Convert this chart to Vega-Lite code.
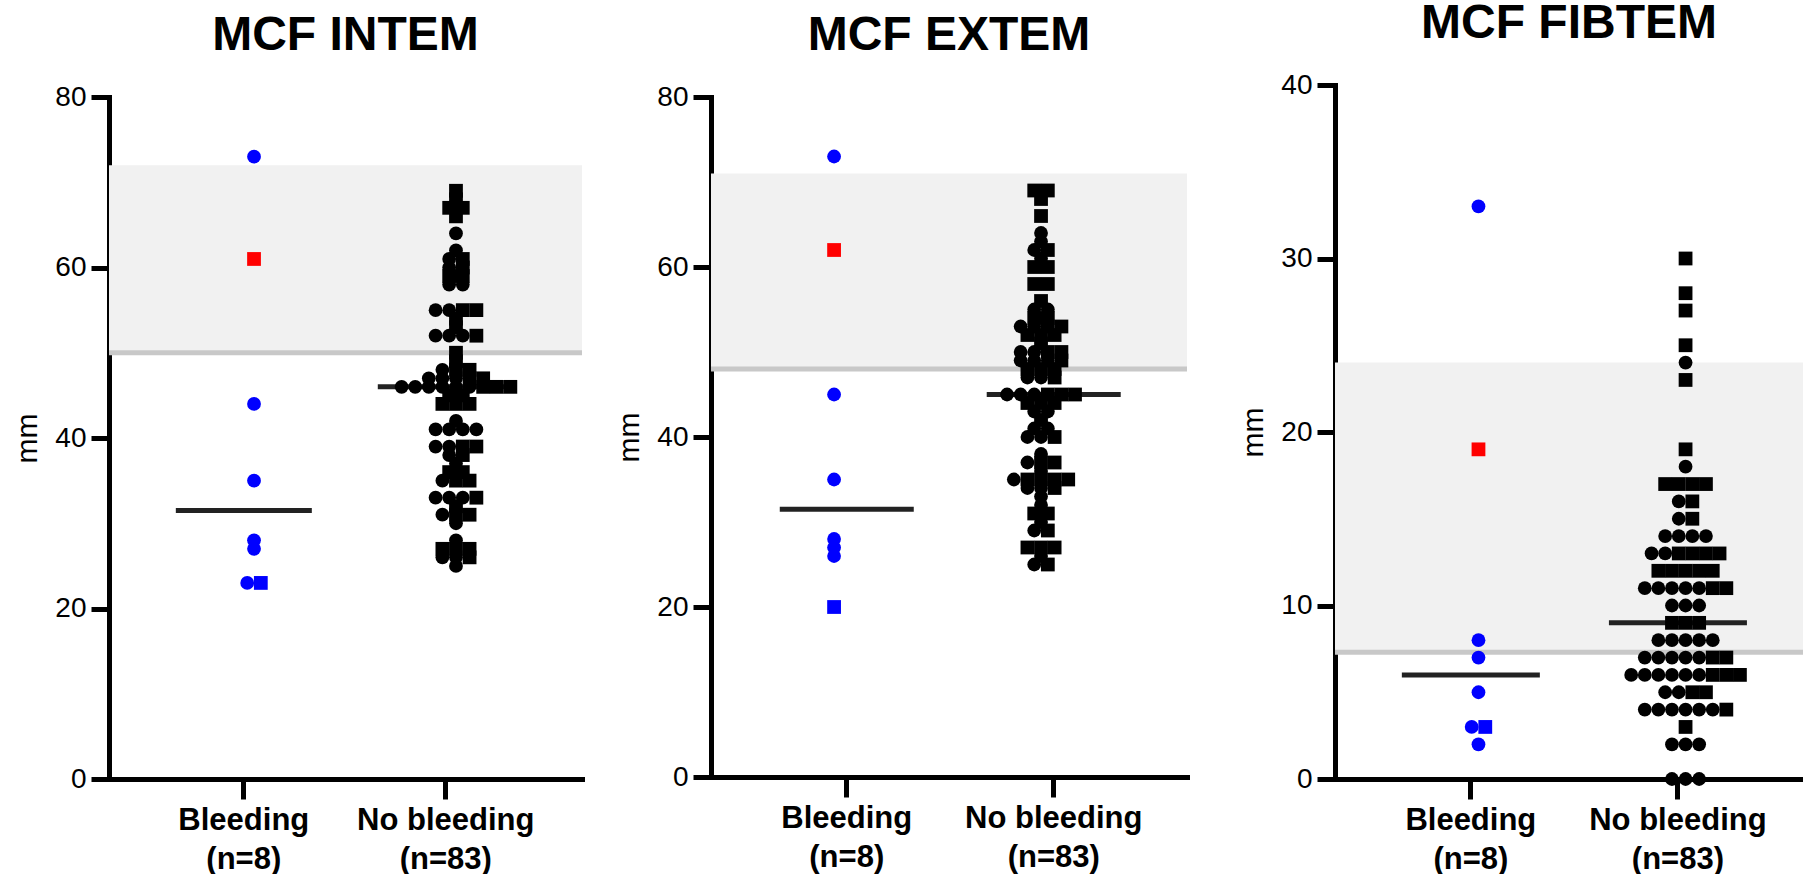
{
  "$schema": "https://vega.github.io/schema/vega-lite/v6.json",
  "padding": {"left": 12, "top": 0, "right": 0, "bottom": 0},
  "background": "white",
  "config": {
    "font": "Liberation Sans",
    "view": {"stroke": null},
    "axis": {"domainColor": "#000", "domainWidth": 5, "tickColor": "#000", "tickWidth": 5, "labelColor": "#000", "titleColor": "#000", "grid": false, "domainCap": "square"},
    "axisY": {"tickSize": 18, "labelFontSize": 28, "labelPadding": 5, "titleFontSize": 30, "titleFontWeight": "normal", "titlePadding": 12, "tickCount": 5},
    "axisX": {"tickSize": 20, "labelFontSize": 31, "labelFontWeight": "bold", "labelPadding": 6, "labelAngle": 0, "labelLineHeight": 39},
    "title": {"fontSize": 48, "fontWeight": "bold", "frame": "group", "anchor": "middle", "color": "#000", "offset": 23}
  },
  "datasets": {
    "bands": [
      {"test": "INTEM", "low": 50, "high": 72},
      {"test": "EXTEM", "low": 48, "high": 71},
      {"test": "FIBTEM", "low": 7.3, "high": 24}
    ],
    "intem": [
      {"group": "Bleeding", "value": 73, "kind": "A"},
      {"group": "Bleeding", "value": 61, "kind": "B", "highlight": true},
      {"group": "Bleeding", "value": 44, "kind": "A"},
      {"group": "Bleeding", "value": 35, "kind": "A"},
      {"group": "Bleeding", "value": 28, "kind": "A"},
      {"group": "Bleeding", "value": 27, "kind": "A"},
      {"group": "Bleeding", "value": 23, "kind": "B"},
      {"group": "Bleeding", "value": 23, "kind": "A"},
      {"group": "No bleeding", "value": 69, "kind": "B"},
      {"group": "No bleeding", "value": 68, "kind": "B"},
      {"group": "No bleeding", "value": 67, "kind": "B"},
      {"group": "No bleeding", "value": 67, "kind": "B"},
      {"group": "No bleeding", "value": 66, "kind": "B"},
      {"group": "No bleeding", "value": 64, "kind": "A"},
      {"group": "No bleeding", "value": 62, "kind": "A"},
      {"group": "No bleeding", "value": 61, "kind": "B"},
      {"group": "No bleeding", "value": 61, "kind": "A"},
      {"group": "No bleeding", "value": 60, "kind": "B"},
      {"group": "No bleeding", "value": 60, "kind": "A"},
      {"group": "No bleeding", "value": 59, "kind": "B"},
      {"group": "No bleeding", "value": 59, "kind": "B"},
      {"group": "No bleeding", "value": 58, "kind": "A"},
      {"group": "No bleeding", "value": 58, "kind": "A"},
      {"group": "No bleeding", "value": 55, "kind": "A"},
      {"group": "No bleeding", "value": 55, "kind": "B"},
      {"group": "No bleeding", "value": 55, "kind": "B"},
      {"group": "No bleeding", "value": 55, "kind": "A"},
      {"group": "No bleeding", "value": 54, "kind": "B"},
      {"group": "No bleeding", "value": 53, "kind": "B"},
      {"group": "No bleeding", "value": 52, "kind": "A"},
      {"group": "No bleeding", "value": 52, "kind": "A"},
      {"group": "No bleeding", "value": 52, "kind": "A"},
      {"group": "No bleeding", "value": 52, "kind": "B"},
      {"group": "No bleeding", "value": 50, "kind": "B"},
      {"group": "No bleeding", "value": 49, "kind": "B"},
      {"group": "No bleeding", "value": 48, "kind": "A"},
      {"group": "No bleeding", "value": 48, "kind": "B"},
      {"group": "No bleeding", "value": 48, "kind": "B"},
      {"group": "No bleeding", "value": 47, "kind": "A"},
      {"group": "No bleeding", "value": 47, "kind": "B"},
      {"group": "No bleeding", "value": 47, "kind": "B"},
      {"group": "No bleeding", "value": 47, "kind": "A"},
      {"group": "No bleeding", "value": 47, "kind": "A"},
      {"group": "No bleeding", "value": 46, "kind": "A"},
      {"group": "No bleeding", "value": 46, "kind": "A"},
      {"group": "No bleeding", "value": 46, "kind": "A"},
      {"group": "No bleeding", "value": 46, "kind": "A"},
      {"group": "No bleeding", "value": 46, "kind": "B"},
      {"group": "No bleeding", "value": 46, "kind": "B"},
      {"group": "No bleeding", "value": 46, "kind": "B"},
      {"group": "No bleeding", "value": 46, "kind": "A"},
      {"group": "No bleeding", "value": 46, "kind": "A"},
      {"group": "No bleeding", "value": 45, "kind": "B"},
      {"group": "No bleeding", "value": 45, "kind": "B"},
      {"group": "No bleeding", "value": 44, "kind": "B"},
      {"group": "No bleeding", "value": 44, "kind": "B"},
      {"group": "No bleeding", "value": 44, "kind": "B"},
      {"group": "No bleeding", "value": 42, "kind": "A"},
      {"group": "No bleeding", "value": 41, "kind": "A"},
      {"group": "No bleeding", "value": 41, "kind": "A"},
      {"group": "No bleeding", "value": 41, "kind": "A"},
      {"group": "No bleeding", "value": 41, "kind": "A"},
      {"group": "No bleeding", "value": 39, "kind": "A"},
      {"group": "No bleeding", "value": 39, "kind": "A"},
      {"group": "No bleeding", "value": 39, "kind": "B"},
      {"group": "No bleeding", "value": 39, "kind": "B"},
      {"group": "No bleeding", "value": 38, "kind": "B"},
      {"group": "No bleeding", "value": 38, "kind": "A"},
      {"group": "No bleeding", "value": 37, "kind": "A"},
      {"group": "No bleeding", "value": 36, "kind": "B"},
      {"group": "No bleeding", "value": 36, "kind": "B"},
      {"group": "No bleeding", "value": 35, "kind": "B"},
      {"group": "No bleeding", "value": 35, "kind": "B"},
      {"group": "No bleeding", "value": 35, "kind": "A"},
      {"group": "No bleeding", "value": 33, "kind": "A"},
      {"group": "No bleeding", "value": 33, "kind": "A"},
      {"group": "No bleeding", "value": 33, "kind": "B"},
      {"group": "No bleeding", "value": 33, "kind": "A"},
      {"group": "No bleeding", "value": 32, "kind": "B"},
      {"group": "No bleeding", "value": 31, "kind": "A"},
      {"group": "No bleeding", "value": 31, "kind": "B"},
      {"group": "No bleeding", "value": 31, "kind": "B"},
      {"group": "No bleeding", "value": 30, "kind": "A"},
      {"group": "No bleeding", "value": 28, "kind": "A"},
      {"group": "No bleeding", "value": 27, "kind": "B"},
      {"group": "No bleeding", "value": 27, "kind": "B"},
      {"group": "No bleeding", "value": 27, "kind": "B"},
      {"group": "No bleeding", "value": 26, "kind": "A"},
      {"group": "No bleeding", "value": 26, "kind": "B"},
      {"group": "No bleeding", "value": 26, "kind": "A"},
      {"group": "No bleeding", "value": 25, "kind": "A"}
    ],
    "extem": [
      {"group": "Bleeding", "value": 73, "kind": "A"},
      {"group": "Bleeding", "value": 62, "kind": "B", "highlight": true},
      {"group": "Bleeding", "value": 45, "kind": "A"},
      {"group": "Bleeding", "value": 35, "kind": "A"},
      {"group": "Bleeding", "value": 28, "kind": "A"},
      {"group": "Bleeding", "value": 27, "kind": "A"},
      {"group": "Bleeding", "value": 26, "kind": "A"},
      {"group": "Bleeding", "value": 20, "kind": "B"},
      {"group": "No bleeding", "value": 69, "kind": "B"},
      {"group": "No bleeding", "value": 69, "kind": "B"},
      {"group": "No bleeding", "value": 68, "kind": "B"},
      {"group": "No bleeding", "value": 66, "kind": "B"},
      {"group": "No bleeding", "value": 64, "kind": "A"},
      {"group": "No bleeding", "value": 63, "kind": "A"},
      {"group": "No bleeding", "value": 62, "kind": "A"},
      {"group": "No bleeding", "value": 62, "kind": "B"},
      {"group": "No bleeding", "value": 61, "kind": "A"},
      {"group": "No bleeding", "value": 60, "kind": "B"},
      {"group": "No bleeding", "value": 60, "kind": "B"},
      {"group": "No bleeding", "value": 58, "kind": "B"},
      {"group": "No bleeding", "value": 58, "kind": "B"},
      {"group": "No bleeding", "value": 56, "kind": "B"},
      {"group": "No bleeding", "value": 55, "kind": "A"},
      {"group": "No bleeding", "value": 55, "kind": "A"},
      {"group": "No bleeding", "value": 54, "kind": "B"},
      {"group": "No bleeding", "value": 54, "kind": "B"},
      {"group": "No bleeding", "value": 53, "kind": "A"},
      {"group": "No bleeding", "value": 53, "kind": "B"},
      {"group": "No bleeding", "value": 53, "kind": "B"},
      {"group": "No bleeding", "value": 53, "kind": "A"},
      {"group": "No bleeding", "value": 52, "kind": "B"},
      {"group": "No bleeding", "value": 52, "kind": "B"},
      {"group": "No bleeding", "value": 52, "kind": "B"},
      {"group": "No bleeding", "value": 51, "kind": "B"},
      {"group": "No bleeding", "value": 50, "kind": "A"},
      {"group": "No bleeding", "value": 50, "kind": "B"},
      {"group": "No bleeding", "value": 50, "kind": "B"},
      {"group": "No bleeding", "value": 50, "kind": "A"},
      {"group": "No bleeding", "value": 49, "kind": "B"},
      {"group": "No bleeding", "value": 49, "kind": "A"},
      {"group": "No bleeding", "value": 49, "kind": "A"},
      {"group": "No bleeding", "value": 49, "kind": "A"},
      {"group": "No bleeding", "value": 48, "kind": "B"},
      {"group": "No bleeding", "value": 48, "kind": "B"},
      {"group": "No bleeding", "value": 48, "kind": "B"},
      {"group": "No bleeding", "value": 47, "kind": "A"},
      {"group": "No bleeding", "value": 47, "kind": "A"},
      {"group": "No bleeding", "value": 47, "kind": "B"},
      {"group": "No bleeding", "value": 45, "kind": "A"},
      {"group": "No bleeding", "value": 45, "kind": "A"},
      {"group": "No bleeding", "value": 45, "kind": "B"},
      {"group": "No bleeding", "value": 45, "kind": "B"},
      {"group": "No bleeding", "value": 45, "kind": "B"},
      {"group": "No bleeding", "value": 45, "kind": "A"},
      {"group": "No bleeding", "value": 44, "kind": "B"},
      {"group": "No bleeding", "value": 44, "kind": "B"},
      {"group": "No bleeding", "value": 44, "kind": "B"},
      {"group": "No bleeding", "value": 43, "kind": "A"},
      {"group": "No bleeding", "value": 43, "kind": "A"},
      {"group": "No bleeding", "value": 42, "kind": "B"},
      {"group": "No bleeding", "value": 41, "kind": "A"},
      {"group": "No bleeding", "value": 41, "kind": "A"},
      {"group": "No bleeding", "value": 40, "kind": "B"},
      {"group": "No bleeding", "value": 40, "kind": "A"},
      {"group": "No bleeding", "value": 40, "kind": "A"},
      {"group": "No bleeding", "value": 38, "kind": "A"},
      {"group": "No bleeding", "value": 37, "kind": "B"},
      {"group": "No bleeding", "value": 37, "kind": "A"},
      {"group": "No bleeding", "value": 37, "kind": "B"},
      {"group": "No bleeding", "value": 36, "kind": "A"},
      {"group": "No bleeding", "value": 35, "kind": "B"},
      {"group": "No bleeding", "value": 35, "kind": "B"},
      {"group": "No bleeding", "value": 35, "kind": "B"},
      {"group": "No bleeding", "value": 35, "kind": "A"},
      {"group": "No bleeding", "value": 35, "kind": "B"},
      {"group": "No bleeding", "value": 34, "kind": "A"},
      {"group": "No bleeding", "value": 34, "kind": "A"},
      {"group": "No bleeding", "value": 34, "kind": "B"},
      {"group": "No bleeding", "value": 33, "kind": "A"},
      {"group": "No bleeding", "value": 32, "kind": "A"},
      {"group": "No bleeding", "value": 31, "kind": "B"},
      {"group": "No bleeding", "value": 31, "kind": "B"},
      {"group": "No bleeding", "value": 30, "kind": "A"},
      {"group": "No bleeding", "value": 29, "kind": "A"},
      {"group": "No bleeding", "value": 29, "kind": "B"},
      {"group": "No bleeding", "value": 27, "kind": "B"},
      {"group": "No bleeding", "value": 27, "kind": "B"},
      {"group": "No bleeding", "value": 27, "kind": "B"},
      {"group": "No bleeding", "value": 26, "kind": "A"},
      {"group": "No bleeding", "value": 25, "kind": "A"},
      {"group": "No bleeding", "value": 25, "kind": "B"}
    ],
    "fibtem": [
      {"group": "Bleeding", "value": 33, "kind": "A"},
      {"group": "Bleeding", "value": 19, "kind": "B", "highlight": true},
      {"group": "Bleeding", "value": 8, "kind": "A"},
      {"group": "Bleeding", "value": 7, "kind": "A"},
      {"group": "Bleeding", "value": 5, "kind": "A"},
      {"group": "Bleeding", "value": 3, "kind": "A"},
      {"group": "Bleeding", "value": 3, "kind": "B"},
      {"group": "Bleeding", "value": 2, "kind": "A"},
      {"group": "No bleeding", "value": 30, "kind": "B"},
      {"group": "No bleeding", "value": 28, "kind": "B"},
      {"group": "No bleeding", "value": 27, "kind": "B"},
      {"group": "No bleeding", "value": 25, "kind": "B"},
      {"group": "No bleeding", "value": 24, "kind": "A"},
      {"group": "No bleeding", "value": 23, "kind": "B"},
      {"group": "No bleeding", "value": 19, "kind": "B"},
      {"group": "No bleeding", "value": 18, "kind": "A"},
      {"group": "No bleeding", "value": 17, "kind": "B"},
      {"group": "No bleeding", "value": 17, "kind": "B"},
      {"group": "No bleeding", "value": 17, "kind": "B"},
      {"group": "No bleeding", "value": 17, "kind": "B"},
      {"group": "No bleeding", "value": 16, "kind": "B"},
      {"group": "No bleeding", "value": 16, "kind": "A"},
      {"group": "No bleeding", "value": 15, "kind": "B"},
      {"group": "No bleeding", "value": 15, "kind": "A"},
      {"group": "No bleeding", "value": 14, "kind": "A"},
      {"group": "No bleeding", "value": 14, "kind": "A"},
      {"group": "No bleeding", "value": 14, "kind": "A"},
      {"group": "No bleeding", "value": 14, "kind": "A"},
      {"group": "No bleeding", "value": 13, "kind": "B"},
      {"group": "No bleeding", "value": 13, "kind": "B"},
      {"group": "No bleeding", "value": 13, "kind": "A"},
      {"group": "No bleeding", "value": 13, "kind": "A"},
      {"group": "No bleeding", "value": 13, "kind": "B"},
      {"group": "No bleeding", "value": 13, "kind": "B"},
      {"group": "No bleeding", "value": 12, "kind": "B"},
      {"group": "No bleeding", "value": 12, "kind": "B"},
      {"group": "No bleeding", "value": 12, "kind": "B"},
      {"group": "No bleeding", "value": 12, "kind": "B"},
      {"group": "No bleeding", "value": 12, "kind": "B"},
      {"group": "No bleeding", "value": 11, "kind": "B"},
      {"group": "No bleeding", "value": 11, "kind": "B"},
      {"group": "No bleeding", "value": 11, "kind": "A"},
      {"group": "No bleeding", "value": 11, "kind": "A"},
      {"group": "No bleeding", "value": 11, "kind": "A"},
      {"group": "No bleeding", "value": 11, "kind": "A"},
      {"group": "No bleeding", "value": 11, "kind": "A"},
      {"group": "No bleeding", "value": 10, "kind": "A"},
      {"group": "No bleeding", "value": 10, "kind": "A"},
      {"group": "No bleeding", "value": 10, "kind": "A"},
      {"group": "No bleeding", "value": 9, "kind": "B"},
      {"group": "No bleeding", "value": 9, "kind": "B"},
      {"group": "No bleeding", "value": 9, "kind": "B"},
      {"group": "No bleeding", "value": 8, "kind": "A"},
      {"group": "No bleeding", "value": 8, "kind": "A"},
      {"group": "No bleeding", "value": 8, "kind": "A"},
      {"group": "No bleeding", "value": 8, "kind": "A"},
      {"group": "No bleeding", "value": 8, "kind": "A"},
      {"group": "No bleeding", "value": 7, "kind": "A"},
      {"group": "No bleeding", "value": 7, "kind": "B"},
      {"group": "No bleeding", "value": 7, "kind": "B"},
      {"group": "No bleeding", "value": 7, "kind": "A"},
      {"group": "No bleeding", "value": 7, "kind": "A"},
      {"group": "No bleeding", "value": 7, "kind": "A"},
      {"group": "No bleeding", "value": 7, "kind": "A"},
      {"group": "No bleeding", "value": 6, "kind": "A"},
      {"group": "No bleeding", "value": 6, "kind": "A"},
      {"group": "No bleeding", "value": 6, "kind": "A"},
      {"group": "No bleeding", "value": 6, "kind": "A"},
      {"group": "No bleeding", "value": 6, "kind": "A"},
      {"group": "No bleeding", "value": 6, "kind": "B"},
      {"group": "No bleeding", "value": 6, "kind": "B"},
      {"group": "No bleeding", "value": 6, "kind": "B"},
      {"group": "No bleeding", "value": 6, "kind": "A"},
      {"group": "No bleeding", "value": 5, "kind": "B"},
      {"group": "No bleeding", "value": 5, "kind": "B"},
      {"group": "No bleeding", "value": 5, "kind": "A"},
      {"group": "No bleeding", "value": 5, "kind": "A"},
      {"group": "No bleeding", "value": 4, "kind": "B"},
      {"group": "No bleeding", "value": 4, "kind": "A"},
      {"group": "No bleeding", "value": 4, "kind": "A"},
      {"group": "No bleeding", "value": 4, "kind": "A"},
      {"group": "No bleeding", "value": 4, "kind": "A"},
      {"group": "No bleeding", "value": 4, "kind": "A"},
      {"group": "No bleeding", "value": 4, "kind": "A"},
      {"group": "No bleeding", "value": 3, "kind": "B"},
      {"group": "No bleeding", "value": 2, "kind": "A"},
      {"group": "No bleeding", "value": 2, "kind": "A"},
      {"group": "No bleeding", "value": 2, "kind": "A"},
      {"group": "No bleeding", "value": 0, "kind": "A"},
      {"group": "No bleeding", "value": 0, "kind": "A"},
      {"group": "No bleeding", "value": 0, "kind": "A"}
    ]
  },
  "spacing": 48,
  "hconcat": [
    {
      "spacing": 29,
      "hconcat": [
        {
          "title": "MCF INTEM",
          "width": 473,
          "height": 682,
          "layer": [
            {
              "data": {"name": "bands"},
              "transform": [{"filter": "datum.test == 'INTEM'"}],
              "mark": {"type": "rect", "color": "#f1f1f1"},
              "encoding": {
                "y": {"field": "high", "type": "quantitative", "title": "mm", "scale": {"domain": [0, 80], "nice": false}},
                "y2": {"field": "low"}
              }
            },
            {
              "data": {"name": "bands"},
              "transform": [{"filter": "datum.test == 'INTEM'"}],
              "mark": {"type": "rule", "color": "#c8c8c8", "strokeWidth": 5},
              "encoding": {
                "y": {"field": "low", "type": "quantitative", "title": "mm", "scale": {"domain": [0, 80], "nice": false}}
              }
            },
            {
              "data": {"name": "intem"},
              "mark": {"type": "tick", "size": 136, "thickness": 5, "color": "#222"},
              "encoding": {
                "x": {"field": "group", "type": "nominal", "title": null, "scale": {"type": "band", "paddingInner": 0, "paddingOuter": 0.171, "align": 0.49}, "axis": {"labelExpr": "datum.value == 'Bleeding' ? ['Bleeding', '(n=8)'] : ['No bleeding', '(n=83)']"}},
                "y": {"aggregate": "median", "field": "value", "type": "quantitative", "title": "mm", "scale": {"domain": [0, 80], "nice": false}}
              }
            },
            {
              "data": {"name": "intem"},
              "transform": [
                {"window": [{"op": "count", "as": "unit"}], "frame": [0, 0], "ignorePeers": true},
                {"stack": "unit", "groupby": ["group", "value"], "offset": "center", "sort": [{"field": "kind", "order": "ascending"}], "as": ["s0", "s1"]}
              ],
              "mark": {"type": "point", "filled": true, "size": 190, "opacity": 1, "strokeWidth": 0},
              "encoding": {
                "x": {"field": "group", "type": "nominal", "title": null, "scale": {"type": "band", "paddingInner": 0, "paddingOuter": 0.171, "align": 0.49}, "axis": {"labelExpr": "datum.value == 'Bleeding' ? ['Bleeding', '(n=8)'] : ['No bleeding', '(n=83)']"}},
                "xOffset": {"field": "s0", "type": "quantitative", "scale": {"domain": [-2.52, 10.52], "nice": false, "zero": false}},
                "y": {"field": "value", "type": "quantitative", "title": "mm", "scale": {"domain": [0, 80], "nice": false}},
                "shape": {"field": "kind", "type": "nominal", "scale": {"domain": ["A", "B"], "range": ["circle", "square"]}, "legend": null},
                "color": {"condition": {"test": "datum.highlight === true", "value": "#ff0000"}, "field": "group", "type": "nominal", "scale": {"domain": ["Bleeding", "No bleeding"], "range": ["#0000ff", "#000000"]}, "legend": null}
              }
            }
          ]
        },
        {
          "title": "MCF EXTEM",
          "width": 476,
          "height": 680,
          "layer": [
            {
              "data": {"name": "bands"},
              "transform": [{"filter": "datum.test == 'EXTEM'"}],
              "mark": {"type": "rect", "color": "#f1f1f1"},
              "encoding": {
                "y": {"field": "high", "type": "quantitative", "title": "mm", "scale": {"domain": [0, 80], "nice": false}},
                "y2": {"field": "low"}
              }
            },
            {
              "data": {"name": "bands"},
              "transform": [{"filter": "datum.test == 'EXTEM'"}],
              "mark": {"type": "rule", "color": "#c8c8c8", "strokeWidth": 5},
              "encoding": {
                "y": {"field": "low", "type": "quantitative", "title": "mm", "scale": {"domain": [0, 80], "nice": false}}
              }
            },
            {
              "data": {"name": "extem"},
              "mark": {"type": "tick", "size": 134, "thickness": 5, "color": "#222"},
              "encoding": {
                "x": {"field": "group", "type": "nominal", "title": null, "scale": {"type": "band", "paddingInner": 0, "paddingOuter": 0.15, "align": 0.52}, "axis": {"labelExpr": "datum.value == 'Bleeding' ? ['Bleeding', '(n=8)'] : ['No bleeding', '(n=83)']"}},
                "y": {"aggregate": "median", "field": "value", "type": "quantitative", "title": "mm", "scale": {"domain": [0, 80], "nice": false}}
              }
            },
            {
              "data": {"name": "extem"},
              "transform": [
                {"window": [{"op": "count", "as": "unit"}], "frame": [0, 0], "ignorePeers": true},
                {"stack": "unit", "groupby": ["group", "value"], "offset": "center", "sort": [{"field": "kind", "order": "ascending"}], "as": ["s0", "s1"]}
              ],
              "mark": {"type": "point", "filled": true, "size": 190, "opacity": 1, "strokeWidth": 0},
              "encoding": {
                "x": {"field": "group", "type": "nominal", "title": null, "scale": {"type": "band", "paddingInner": 0, "paddingOuter": 0.15, "align": 0.52}, "axis": {"labelExpr": "datum.value == 'Bleeding' ? ['Bleeding', '(n=8)'] : ['No bleeding', '(n=83)']"}},
                "xOffset": {"field": "s0", "type": "quantitative", "scale": {"domain": [-4.18, 9.18], "nice": false, "zero": false}},
                "y": {"field": "value", "type": "quantitative", "title": "mm", "scale": {"domain": [0, 80], "nice": false}},
                "shape": {"field": "kind", "type": "nominal", "scale": {"domain": ["A", "B"], "range": ["circle", "square"]}, "legend": null},
                "color": {"condition": {"test": "datum.highlight === true", "value": "#ff0000"}, "field": "group", "type": "nominal", "scale": {"domain": ["Bleeding", "No bleeding"], "range": ["#0000ff", "#000000"]}, "legend": null}
              }
            }
          ]
        }
      ]
    },
    {
      "title": "MCF FIBTEM",
      "width": 468,
      "height": 682,
      "layer": [
        {
          "data": {"name": "bands"},
          "transform": [{"filter": "datum.test == 'FIBTEM'"}],
          "mark": {"type": "rect", "color": "#f1f1f1"},
          "encoding": {
            "y": {"field": "high", "type": "quantitative", "title": "mm", "scale": {"domain": [0, 40], "nice": false, "range": [682, -12]}},
            "y2": {"field": "low"}
          }
        },
        {
          "data": {"name": "bands"},
          "transform": [{"filter": "datum.test == 'FIBTEM'"}],
          "mark": {"type": "rule", "color": "#c8c8c8", "strokeWidth": 5},
          "encoding": {
            "y": {"field": "low", "type": "quantitative", "title": "mm", "scale": {"domain": [0, 40], "nice": false, "range": [682, -12]}}
          }
        },
        {
          "data": {"name": "fibtem"},
          "mark": {"type": "tick", "size": 138, "thickness": 5, "color": "#222"},
          "encoding": {
            "x": {"field": "group", "type": "nominal", "title": null, "scale": {"type": "band", "paddingInner": 0, "paddingOuter": 0.13, "align": 0.6}, "axis": {"labelExpr": "datum.value == 'Bleeding' ? ['Bleeding', '(n=8)'] : ['No bleeding', '(n=83)']"}},
            "y": {"aggregate": "median", "field": "value", "type": "quantitative", "title": "mm", "scale": {"domain": [0, 40], "nice": false, "range": [682, -12]}}
          }
        },
        {
          "data": {"name": "fibtem"},
          "transform": [
            {"window": [{"op": "count", "as": "unit"}], "frame": [0, 0], "ignorePeers": true},
            {"stack": "unit", "groupby": ["group", "value"], "offset": "center", "sort": [{"field": "kind", "order": "ascending"}], "as": ["s0", "s1"]}
          ],
          "mark": {"type": "point", "filled": true, "size": 190, "opacity": 1, "strokeWidth": 0},
          "encoding": {
            "x": {"field": "group", "type": "nominal", "title": null, "scale": {"type": "band", "paddingInner": 0, "paddingOuter": 0.13, "align": 0.6}, "axis": {"labelExpr": "datum.value == 'Bleeding' ? ['Bleeding', '(n=8)'] : ['No bleeding', '(n=83)']"}},
            "xOffset": {"field": "s0", "type": "quantitative", "scale": {"domain": [-2.68, 10.68], "nice": false, "zero": false}},
            "y": {"field": "value", "type": "quantitative", "title": "mm", "scale": {"domain": [0, 40], "nice": false, "range": [682, -12]}},
            "shape": {"field": "kind", "type": "nominal", "scale": {"domain": ["A", "B"], "range": ["circle", "square"]}, "legend": null},
            "color": {"condition": {"test": "datum.highlight === true", "value": "#ff0000"}, "field": "group", "type": "nominal", "scale": {"domain": ["Bleeding", "No bleeding"], "range": ["#0000ff", "#000000"]}, "legend": null}
          }
        }
      ]
    }
  ]
}
